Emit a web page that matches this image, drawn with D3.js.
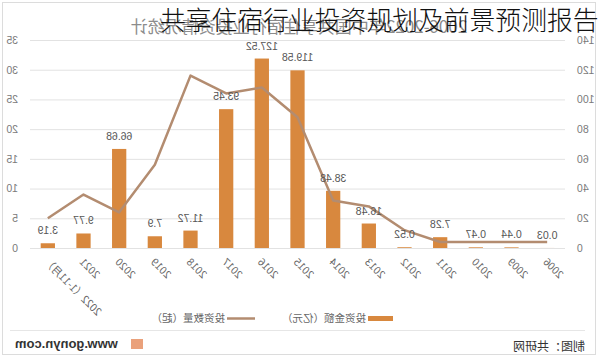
<!DOCTYPE html>
<html><head><meta charset="utf-8">
<script src="https://cdnjs.cloudflare.com/ajax/libs/d3/7.8.5/d3.min.js"></script>
<style>body{margin:0;background:#fff;}svg{display:block;}</style>
</head><body><svg id="c" width="600" height="359"></svg>
<script>
const categories = ['2006','2009','2010','2011','2012','2013','2014','2015','2016','2017','2018','2019','2020','2021','2022（1-11月）'];
const amountValues = [0.03,0.44,0.47,7.28,0.52,16.48,38.48,119.58,127.52,93.45,11.72,7.9,66.68,9.77,3.19];
const countValues = [1,1,1,1,3,7,8,22,27,26,29,14,6,9,5];
const amountTicks = [0,20,40,60,80,100,120,140];
const countTicks = [0,5,10,15,20,25,30,35];
const chartTitle = '2006-2022年中国共享住宿行业投资情况统计';
const overlayTitle = '共享住宿行业投资规划及前景预测报告';
const legendAmount = '投资金额（亿元）';
const legendCount = '投资数量（起）';
const sourceText = '制图：共研网';
const siteText = 'www.gonyn.com';

const svg = d3.select('#c');
const W = 600;
const barColor = '#D8883E', lineColor = '#B38C70';
const numFont = '"Liberation Sans", Arial, sans-serif';
const cjkFont = '"Noto Sans CJK SC", sans-serif';

// frame
svg.append('rect').attr('x',2.5).attr('y',2.5).attr('width',593).attr('height',352)
  .attr('fill','none').attr('stroke','#dcdcdc');

// the chart is drawn mirrored horizontally
const g = svg.append('g').attr('transform',`translate(${W},0) scale(-1,1)`);

const x = d3.scaleBand().domain(categories).range([35,570]).paddingInner(0.6).paddingOuter(0.3);
const yA = d3.scaleLinear().domain([0,140]).range([248,40]);
const yC = d3.scaleLinear().domain([0,35]).range([248,40]);

// grid
g.append('g').selectAll('line').data(amountTicks).join('line')
  .attr('x1',35).attr('x2',570).attr('y1',d=>yA(d)+0.5).attr('y2',d=>yA(d)+0.5)
  .attr('stroke','#e2e2e2').attr('stroke-width',1);

// axes
const axL = g.append('g').attr('transform','translate(27,0)')
  .call(d3.axisLeft(yA).tickValues(amountTicks).tickSize(0).tickPadding(4));
const axR = g.append('g').attr('transform','translate(578,0)')
  .call(d3.axisRight(yC).tickValues(countTicks).tickSize(0).tickPadding(4));
[axL,axR].forEach(a=>{a.select('.domain').remove();
  a.selectAll('text').attr('fill','#7a7a7a').style('font-family',numFont).style('font-size','10.5px');});

const axB = g.append('g').attr('transform','translate(0,248)')
  .call(d3.axisBottom(x).tickSize(0).tickPadding(0));
axB.select('.domain').remove();
axB.selectAll('text')
  .attr('text-anchor','end').attr('y',0).attr('dy','0.35em')
  .attr('transform','translate(2,12) rotate(-45)')
  .attr('fill','#666').style('font-family',cjkFont).style('font-size','10.5px');

// bars
g.append('g').selectAll('rect').data(categories).join('rect')
  .attr('x',d=>x(d)).attr('width',x.bandwidth())
  .attr('y',(d,i)=>yA(amountValues[i])).attr('height',(d,i)=>248-yA(amountValues[i]))
  .attr('fill',barColor);

// line
const line = d3.line().x((d,i)=>x(categories[i])+x.bandwidth()/2).y(d=>yC(d));
g.append('path').datum(countValues).attr('d',line).attr('fill','none')
  .attr('stroke',lineColor).attr('stroke-width',2.5).attr('stroke-linejoin','round');

// bar labels
g.append('g').selectAll('text').data(categories).join('text')
  .attr('x',d=>x(d)+x.bandwidth()/2).attr('y',(d,i)=>yA(amountValues[i])-9)
  .attr('text-anchor','middle').attr('fill','#555')
  .style('font-family',numFont).style('font-size','10.5px')
  .text((d,i)=>amountValues[i]);

// chart title
g.append('text').attr('x',301).attr('y',33).attr('text-anchor','middle')
  .attr('fill','#8c8c8c').style('font-family',cjkFont).style('font-size','17px').text(chartTitle);

// legend
g.append('rect').attr('x',207).attr('y',316).attr('width',25).attr('height',5).attr('fill',barColor);
g.append('text').attr('x',234).attr('y',322).attr('fill','#666')
  .style('font-family',cjkFont).style('font-size','10.5px').text(legendAmount);
g.append('line').attr('x1',345).attr('x2',373).attr('y1',318.5).attr('y2',318.5)
  .attr('stroke',lineColor).attr('stroke-width',2.5);
g.append('text').attr('x',375).attr('y',322).attr('fill','#666')
  .style('font-family',cjkFont).style('font-size','10.5px').text(legendCount);

// separator
g.append('line').attr('x1',15).attr('x2',590).attr('y1',330.5).attr('y2',330.5).attr('stroke','#e6e6e6');

// source
g.append('text').attr('x',15).attr('y',351).attr('fill','#333')
  .style('font-family',cjkFont).style('font-size','12px').text(sourceText);
g.append('rect').attr('x',457).attr('y',339).attr('width',12).attr('height',10).attr('fill','#E58A5A').attr('opacity',0.8);
g.append('text').attr('x',585).attr('y',348).attr('text-anchor','end').attr('fill','#333')
  .style('font-family',numFont).style('font-size','13px').style('font-weight','bold').text(siteText);

// overlay title (not mirrored)
svg.append('text').attr('x',160).attr('y',30).attr('fill','#111')
  .style('font-family',cjkFont).style('font-size','25.8px').style('font-weight','300').text(overlayTitle);
</script></body></html>
